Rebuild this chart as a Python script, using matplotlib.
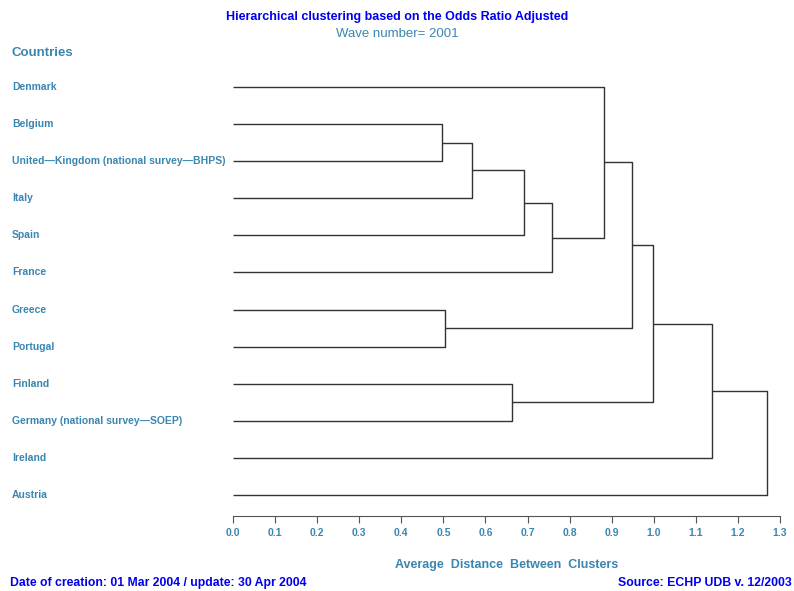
import numpy as np
import matplotlib.pyplot as plt
from matplotlib.transforms import blended_transform_factory

plt.rcParams['font.family'] = ['Liberation Sans', 'DejaVu Sans']

# --- data ---
countries = ['Denmark', 'Belgium', 'United\u2014Kingdom (national survey\u2014BHPS)', 'Italy',
             'Spain', 'France', 'Greece', 'Portugal', 'Finland',
             'Germany (national survey\u2014SOEP)', 'Ireland', 'Austria']
# merges: (left node, right node, height); leaves are 0..11, new clusters get 12, 13, ...
merge_left = [1, 12, 13, 14, 0, 6, 16, 8, 18, 20, 21]
merge_right = [2, 3, 4, 5, 15, 7, 17, 9, 19, 10, 11]
merge_height = [0.497, 0.569, 0.691, 0.758, 0.882, 0.504, 0.949, 0.663, 0.997, 1.139, 1.268]
ticks = np.round(np.arange(0, 1.31, 0.1), 1)

label_col = '#3a86b0'
title_col = '#0000ee'

fig = plt.figure(figsize=(7.94, 5.91), dpi=100)
ax = fig.add_axes([233 / 794, 1 - 516 / 591, (780 - 233) / 794, (516 - 70) / 591])

# node positions: (x height, y position)
pos = {i: (0.0, float(i)) for i in range(len(countries))}
for k, (a, b, h) in enumerate(zip(merge_left, merge_right, merge_height)):
    xa, ya = pos[a]
    xb, yb = pos[b]
    ax.plot([xa, h, h, xb], [ya, ya, yb, yb], color='#333333', lw=1.0, solid_capstyle='butt')
    pos[len(countries) + k] = (h, (ya + yb) / 2)

ax.set_xlim(0, 1.3)
ax.set_ylim(11.566, -0.458)
for s in ['top', 'right', 'left']:
    ax.spines[s].set_visible(False)
ax.spines['bottom'].set_color('#555555')
ax.set_yticks([])
ax.set_xticks(ticks)
ax.set_xticklabels([f'{t:.1f}' for t in ticks], fontsize=7.5, fontweight='bold', color=label_col)
ax.tick_params(axis='x', direction='out', length=5, color='#555555', pad=4)
ax.set_xlabel('Average  Distance  Between  Clusters', fontsize=9, fontweight='bold',
              color=label_col, labelpad=15)

# country labels at the left of the figure
trans = blended_transform_factory(fig.transFigure, ax.transData)
for i, c in enumerate(countries):
    fig.text(12 / 794, i, c, transform=trans, fontsize=7.5, fontweight='bold',
             color=label_col, ha='left', va='center')

fig.text(12 / 794, 1 - 53 / 591, 'Countries', fontsize=9.5, fontweight='bold',
         color=label_col, ha='left', va='center')
fig.text(0.5, 1 - 17 / 591, 'Hierarchical clustering based on the Odds Ratio Adjusted',
         fontsize=9, fontweight='bold', color=title_col, ha='center', va='center')
fig.text(0.5, 1 - 34 / 591, 'Wave number= 2001', fontsize=9.5, color=label_col,
         ha='center', va='center')
fig.text(10 / 794, 1 - 583 / 591, 'Date of creation: 01 Mar 2004 / update: 30 Apr 2004',
         fontsize=8.8, fontweight='bold', color=title_col, ha='left', va='center')
fig.text(792 / 794, 1 - 583 / 591, 'Source: ECHP UDB v. 12/2003',
         fontsize=8.8, fontweight='bold', color=title_col, ha='right', va='center')

fig.savefig('out.png', dpi=100)
